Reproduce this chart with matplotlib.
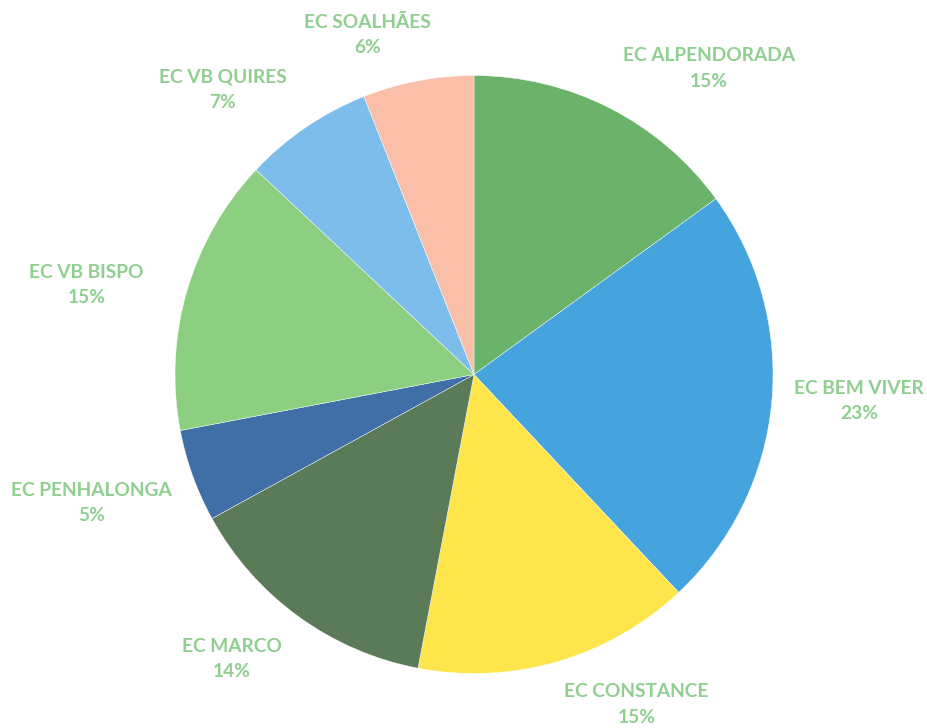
import matplotlib
matplotlib.use('Agg')
import matplotlib.pyplot as plt
import numpy as np

# data (clockwise from 12 o'clock)
names = ['EC ALPENDORADA', 'EC BEM VIVER', 'EC CONSTANCE', 'EC MARCO',
         'EC PENHALONGA', 'EC VB BISPO', 'EC VB QUIRES', 'EC SOALHÃES']
shares = [15, 23, 15, 14, 5, 15, 7, 6]
colors = ['#6bb26b', '#45a3de', '#fde54b', '#5b7a57',
          '#3f6fa6', '#8ccf80', '#7dbdeb', '#f9bfa8']

# label placement: radial distance (in radii) and angle nudge (deg)
lab_dist = [1.29, 1.29, 1.23, 1.25, 1.35, 1.33, 1.27, 1.19]
lab_nudge = [-10.5, 1.5, 10, -4.4, -1.2, 3.2, 7.3, 6.6]

plt.rcParams['font.family'] = ['Lato', 'DejaVu Sans']

fig = plt.figure(figsize=(9.28, 7.28), dpi=100)
ax = fig.add_axes([0, 0, 1, 1])

wedges, _ = ax.pie(shares, colors=colors, startangle=90, counterclock=False,
                   radius=1.0, wedgeprops=dict(edgecolor='white', linewidth=0.3))

tot = float(sum(shares))
for w, name, v, d, dn in zip(wedges, names, shares, lab_dist, lab_nudge):
    mid = np.deg2rad((w.theta1 + w.theta2) / 2.0 + dn)
    ax.text(d * np.cos(mid), d * np.sin(mid),
            '%s\n%d%%' % (name, round(v / tot * 100)),
            ha='center', va='center', multialignment='center',
            fontsize=13.8, fontweight='bold', color='#8fcf8f', linespacing=1.6)

ax.set_xlim(-474 / 299.0, (928 - 474) / 299.0)
ax.set_ylim(-(728 - 374.5) / 299.0, 374.5 / 299.0)
ax.set_aspect('auto')
ax.axis('off')

plt.savefig('out.png', dpi=100)
